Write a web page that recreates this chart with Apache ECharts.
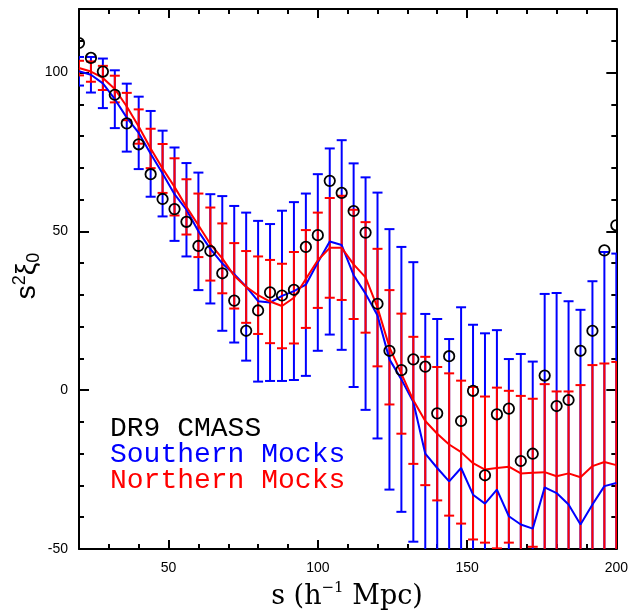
<!DOCTYPE html>
<html>
<head>
<meta charset="utf-8">
<script src="https://cdn.jsdelivr.net/npm/echarts@6/dist/echarts.min.js"></script>
<style>
  html, body { margin: 0; padding: 0; background: #ffffff; }
  #chart { width: 631px; height: 616px; }
</style>
</head>
<body>
<div id="chart"></div>
<script>
// Separation s (h^-1 Mpc) of each bin
const separation = [20, 24, 28, 32, 36, 40, 44, 48, 52, 56, 60, 64, 68, 72, 76, 80, 84, 88, 92, 96,
  100, 104, 108, 112, 116, 120, 124, 128, 132, 136, 140, 144, 148, 152, 156, 160, 164, 168, 172, 176,
  180, 184, 188, 192, 196, 200];

// DR9 CMASS monopole, s^2 xi_0
const dr9Cmass = [109.3, 104.6, 100.3, 93.0, 84.0, 77.4, 68.0, 60.2, 57.0, 53.0, 45.4, 43.8, 36.8, 28.2,
  18.7, 25.1, 30.8, 29.8, 31.6, 45.1, 48.8, 65.9, 62.1, 56.4, 49.6, 27.2, 12.4, 6.3, 9.7, 7.4, -7.3,
  10.7, -9.7, -0.2, -26.8, -7.6, -5.8, -22.3, -20.0, 4.6, -5.0, -3.1, 12.4, 18.7, 44.0, 51.9];

// Southern mocks: mean and 1-sigma scatter
const southernMean = [100.4, 99.3, 96.6, 91.6, 85.8, 81.0, 74.4, 68.2, 61.7, 56.8, 50.0, 44.5, 39.9, 36.5,
  32.6, 28.0, 27.6, 29.7, 31.2, 33.2, 40.2, 46.8, 45.7, 36.2, 30.4, 23.5, 9.7, 3.4, -3.7, -20.0, -24.5,
  -28.7, -24.5, -32.9, -35.7, -31.3, -39.7, -42.3, -43.6, -30.6, -32.4, -36.0, -42.3, -36.0, -30.2, -29.2];
const southernSigma = [4.5, 5.6, 7.8, 9.1, 10.7, 11.4, 13.5, 13.5, 14.7, 14.7, 18.5, 17.2, 21.2, 21.5,
  23.3, 25.3, 24.7, 26.8, 28.0, 28.7, 27.8, 29.3, 33.0, 35.2, 36.6, 38.7, 41.0, 41.7, 44.0, 44.0, 46.9,
  44.8, 50.6, 53.5, 53.6, 50.2, 49.5, 53.7, 52.6, 60.9, 63.0, 64.0, 67.6, 70.3, 73.7, 72.2];

// Northern mocks: mean and 1-sigma scatter
const northernMean = [101.4, 100.3, 98.3, 94.8, 89.3, 83.0, 76.1, 69.8, 64.0, 57.7, 51.9, 46.0, 41.5, 36.0,
  32.5, 29.9, 27.9, 26.5, 29.1, 35.0, 40.9, 44.8, 44.8, 39.6, 35.5, 26.0, 13.5, 5.2, -3.2, -9.7, -13.7,
  -17.1, -19.5, -23.0, -25.0, -24.5, -24.1, -26.2, -26.0, -25.8, -27.1, -26.2, -27.4, -23.9, -22.6, -23.6];
const northernSigma = [2.3, 3.2, 3.8, 4.2, 4.3, 5.4, 6.2, 7.7, 9.0, 8.7, 10.0, 11.5, 11.0, 10.3,
  11.3, 12.2, 13.1, 13.3, 14.4, 15.4, 15.0, 15.7, 16.4, 17.2, 17.4, 18.5, 18.0, 18.9, 20.0, 20.2, 21.0,
  22.4, 22.5, 24.0, 23.0, 25.3, 23.9, 24.4, 23.3, 27.7, 26.7, 25.8, 29.0, 31.8, 31.0, 32.5];

// Axis ticks and labels
const xLabelValues = [50, 100, 150, 200];
const xMajorTickValues = [50, 100, 150];
const xMinorTickValues = [30, 40, 60, 70, 80, 90, 110, 120, 130, 140, 160, 170, 180, 190];
const yLabelValues = [-50, 0, 50, 100];
const yMajorTickValues = [0, 50, 100];
const yMinorTickValues = [-40, -30, -20, -10, 10, 20, 30, 40, 60, 70, 80, 90, 110];

const legendEntries = ['DR9 CMASS', 'Southern Mocks', 'Northern Mocks'];

const BLUE = '#0000ff';
const RED = '#ff0000';
const X_MIN = 20, X_MAX = 200, Y_MIN = -50, Y_MAX = 120;
const SANS = 'Liberation Sans, Arial, sans-serif';

const chart = echarts.init(document.getElementById('chart'), null, { renderer: 'canvas' });

function xAxisDef(position, tickValues, tickLen, withLine, labelValues) {
  return {
    type: 'value', position: position, min: X_MIN, max: X_MAX,
    axisLine: { show: withLine, onZero: false, lineStyle: { color: '#000', width: 2 } },
    axisTick: { show: true, inside: true, length: tickLen, customValues: tickValues,
      lineStyle: { color: '#000', width: 2 } },
    axisLabel: labelValues ? {
      show: true, customValues: labelValues, margin: 12, color: '#000',
      fontSize: 14, fontFamily: SANS
    } : { show: false },
    splitLine: { show: false }
  };
}

function yAxisDef(position, tickValues, tickLen, withLine, labelValues) {
  return {
    type: 'value', position: position, min: Y_MIN, max: Y_MAX,
    axisLine: { show: withLine, onZero: false, lineStyle: { color: '#000', width: 2 } },
    axisTick: { show: true, inside: true, length: tickLen, customValues: tickValues,
      lineStyle: { color: '#000', width: 2 } },
    axisLabel: labelValues ? {
      show: true, customValues: labelValues, margin: 11, color: '#000',
      fontSize: 14, fontFamily: SANS
    } : { show: false },
    splitLine: { show: false }
  };
}

// Vertical error bar with short horizontal caps
function errorBarRenderer(color) {
  return function (params, api) {
    const x = api.value(0), m = api.value(1), s = api.value(2);
    const hi = api.coord([x, m + s]);
    const lo = api.coord([x, m - s]);
    const w = 5;
    const style = { stroke: color, lineWidth: 2, fill: null };
    return {
      type: 'group',
      children: [
        { type: 'line', shape: { x1: hi[0], y1: hi[1], x2: lo[0], y2: lo[1] }, style: style },
        { type: 'line', shape: { x1: hi[0] - w, y1: hi[1], x2: hi[0] + w, y2: hi[1] }, style: style },
        { type: 'line', shape: { x1: lo[0] - w, y1: lo[1], x2: lo[0] + w, y2: lo[1] }, style: style }
      ]
    };
  };
}

function openCircleRenderer(params, api) {
  const p = api.coord([api.value(0), api.value(1)]);
  return {
    type: 'circle',
    shape: { cx: p[0], cy: p[1], r: 5.2 },
    style: { fill: 'none', stroke: '#000', lineWidth: 1.8 }
  };
}

const southernBars = separation.map((s, i) => [s, southernMean[i], southernSigma[i]]);
const northernBars = separation.map((s, i) => [s, northernMean[i], northernSigma[i]]);

const option = {
  animation: false,
  backgroundColor: '#ffffff',
  grid: { left: 79, right: 12, top: 9, bottom: 67, containLabel: false },
  xAxis: [
    xAxisDef('bottom', xMinorTickValues, 5, true, xLabelValues),
    xAxisDef('bottom', xMajorTickValues, 9, false, null),
    xAxisDef('top', xMinorTickValues, 5, true, null),
    xAxisDef('top', xMajorTickValues, 9, false, null)
  ],
  yAxis: [
    yAxisDef('left', yMinorTickValues, 5, true, yLabelValues),
    yAxisDef('left', yMajorTickValues, 10, false, null),
    yAxisDef('right', yMinorTickValues, 5, true, null),
    yAxisDef('right', yMajorTickValues, 10, false, null)
  ],
  series: [
    {
      name: legendEntries[1] + ' errors', type: 'custom', clip: true, z: 2,
      renderItem: errorBarRenderer(BLUE), encode: { x: 0, y: 1 }, data: southernBars
    },
    {
      name: legendEntries[2] + ' errors', type: 'custom', clip: true, z: 3,
      renderItem: errorBarRenderer(RED), encode: { x: 0, y: 1 }, data: northernBars
    },
    {
      name: legendEntries[1], type: 'line', z: 4, showSymbol: false, clip: true,
      lineStyle: { color: BLUE, width: 2 },
      data: separation.map((s, i) => [s, southernMean[i]])
    },
    {
      name: legendEntries[2], type: 'line', z: 5, showSymbol: false, clip: true,
      lineStyle: { color: RED, width: 2 },
      data: separation.map((s, i) => [s, northernMean[i]])
    },
    {
      name: legendEntries[0], type: 'custom', clip: true, z: 6,
      renderItem: openCircleRenderer, encode: { x: 0, y: 1 },
      data: separation.map((s, i) => [s, dr9Cmass[i]])
    }
  ],
  graphic: [
    {
      type: 'text', x: 27, y: 276, rotation: Math.PI / 2, z: 10,
      style: {
        text: '{a|s}{sup|2}{a|ξ}{sub|0}',
        align: 'center', verticalAlign: 'middle', fill: '#000',
        rich: {
          a: { fontSize: 28, lineHeight: 32, fontFamily: SANS, fill: '#000' },
          sup: { fontSize: 18, lineHeight: 18, verticalAlign: 'top', fontFamily: SANS, fill: '#000' },
          sub: { fontSize: 18, lineHeight: 18, verticalAlign: 'bottom', fontFamily: SANS, fill: '#000' }
        }
      }
    },
    {
      type: 'text', x: 347, y: 597, z: 10,
      style: {
        text: '{a|s (h}{sup|−1}{a| Mpc)}',
        align: 'center', verticalAlign: 'middle', fill: '#000',
        rich: {
          a: { fontSize: 27, lineHeight: 32, fontFamily: 'DejaVu Serif, serif', fill: '#000' },
          sup: { fontSize: 15, lineHeight: 15, verticalAlign: 'top', fontFamily: 'DejaVu Serif, serif', fill: '#000' }
        }
      }
    },
    {
      type: 'text', left: 110, top: 415, z: 10,
      style: { text: legendEntries[0], fill: '#000', font: '28px "Courier New", Courier, "Liberation Mono", monospace' }
    },
    {
      type: 'text', left: 110, top: 441, z: 10,
      style: { text: legendEntries[1], fill: BLUE, font: '28px "Courier New", Courier, "Liberation Mono", monospace' }
    },
    {
      type: 'text', left: 110, top: 467, z: 10,
      style: { text: legendEntries[2], fill: RED, font: '28px "Courier New", Courier, "Liberation Mono", monospace' }
    }
  ]
};

chart.setOption(option);
</script>
</body>
</html>
